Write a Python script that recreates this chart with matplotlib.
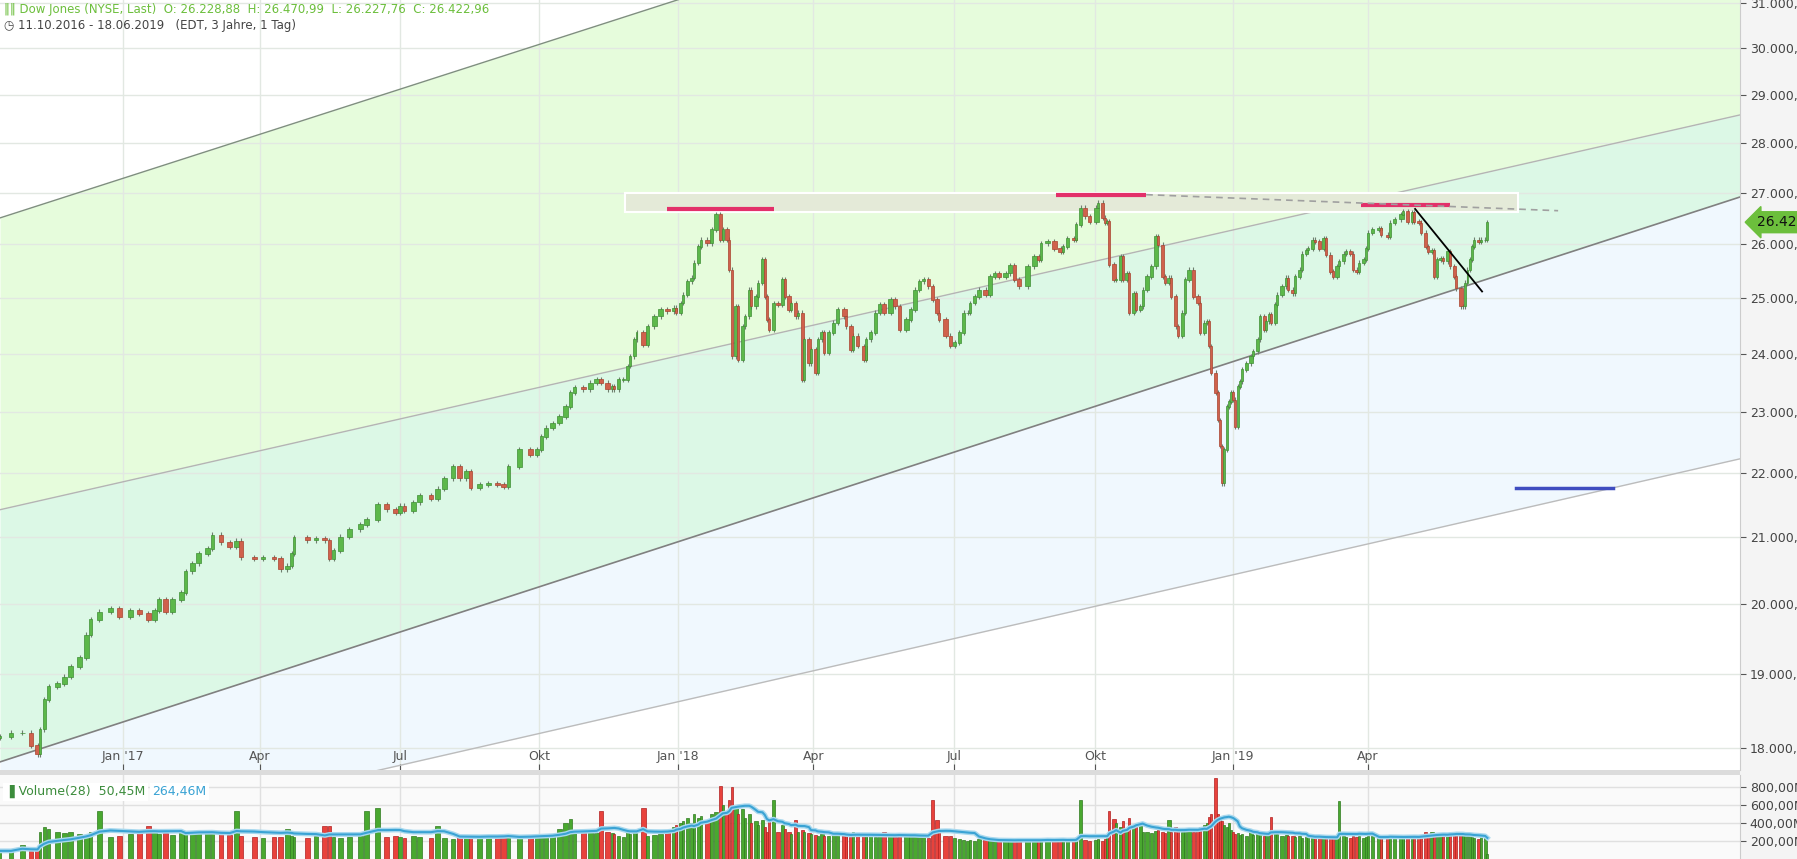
import numpy as np
import pandas as pd
import matplotlib
matplotlib.use("Agg")
import matplotlib.pyplot as plt
from matplotlib.patches import Rectangle
from matplotlib.ticker import FixedLocator, NullLocator

# ---------------- data (trading-day index, close) ----------------
days_a = [0,5,10,14,17,18,20,22,26,29, 32,36,39,41,45,50,54,59,63,67,
          70,72,75,78,82,84,87,90,94,96, 100,104,107,109,115,119,124,127,130,132,
          133,139,143,147,149,151,154,158,163,166, 171,175,179,181,183,187,190,195,198,201,
          205,208,211,213,217,221,225,228,230,235]
close_a = [18150,18200,18200,18030,17920,18250,18650,18830,18870,18960,
           19100,19230,19550,19770,19880,19930,19810,19900,19860,19770,
           19900,20060,19880,20060,20160,20480,20600,20750,20820,21030,
           20920,20850,20940,20690,20670,20690,20670,20510,20560,20750,
           20990,20950,20980,20950,20670,20790,21000,21120,21190,21270,
           21510,21430,21380,21480,21400,21540,21640,21590,21750,21920,
           22110,21920,22030,21770,21820,21840,21820,21790,22110,22380]
vol_a = [90,90,160,90,100,300,350,330,300,290,
         300,280,250,300,533,240,250,280,290,366,
         300,280,290,270,300,290,280,300,290,300,
         290,270,533,250,240,230,240,240,330,250,
         240,230,250,370,370,240,230,240,250,533,
         566,240,250,240,230,250,240,230,366,230,
         220,240,230,240,230,260,250,260,270,260]

days_b = [240,243,245,247,250,253,256,258,260,264, 267,270,272,275,277,278,280,282,284,285,
          287,288,291,293,296,299,302,305,306,308, 309,311,313,314,316,317,320,322,324,326,
          327,329,330,331,333,334,336,337,339,340, 342,343,345,346,347,348,350,352,354,355,
          357,358,360,361,363,364,366,367,369,370, 372,373,375,377,379,382,383,385,386,388,
          391,392,394,396,398,400,403,405,407,410, 412,414,416,418,420,422,424,425,428,430,
          432,434,436,438,439,441,443,446,448,450, 452,455,457,459,461]
close_b = [22300,22380,22600,22740,22820,22930,23100,23330,23420,23390,
           23500,23560,23500,23390,23440,23390,23560,23560,23790,23960,
           24260,24380,24170,24490,24670,24790,24760,24820,24730,24910,
           25060,25310,25370,25650,25960,26085,26020,26280,26575,26085,
           26280,26085,25520,23960,24850,23900,24490,24670,25150,24850,
           25030,25280,25720,25030,24610,24430,24910,24880,25340,25030,
           24790,24910,24670,24730,23560,24260,23840,24080,23670,24260,
           24380,24020,24380,24550,24790,24670,24490,24080,24320,24140,
           23900,24260,24380,24730,24880,24730,24970,24850,24430,24610,
           24790,25150,25310,25340,25220,24970,24730,24610,24320,24140,
           24200,24380,24730,24730,24910,25030,25150,25060,25400,25460,
           25400,25460,25600,25340,25220]
vol_b = [260,260,270,250,270,330,400,440,320,300,
         300,290,533,300,290,280,260,240,300,280,
         300,290,566,260,270,280,300,350,380,400,
         420,450,400,500,450,480,420,500,520,810,
         600,500,650,800,600,500,550,450,500,400,
         420,380,433,350,300,420,650,300,380,330,
         300,280,433,300,320,300,290,280,270,260,
         280,260,250,270,300,270,250,240,300,280,
         260,280,250,240,260,300,250,240,260,280,
         270,260,250,240,230,650,433,300,260,250,
         230,220,210,200,210,200,220,210,200,210,
         200,210,220,200,210]

days_c = [465,468,470,471,474,477,480,481,483,486, 487,489,491,493,496,497,499,500,501,502,
          504,505,507,508,510,511,513,514,516,517, 519,521,523,524,526,527,529,530,532,533,
          535,536,538,540,542,543,545,546,547,548, 550,551,552,553,554,555,556,557,558,559,
          560,561,562,564,566,567,569,570,572,573, 574,575,577,578,580,582,583,585,586,588,
          589,591,592,594,595,597,599,600,602,603, 605,606,608,609,611,612,614,615,617,618,
          619,621,624,625,628,629,631,634,635,637, 639,640,642,643,645,646,648,649,650,652,
          653,655,656,658,659,661,662,663,664,665, 666,667,669,670,672,673]
close_c = [25590,25770,25710,26020,26050,25920,25860,25960,26120,26085,
           26380,26700,26540,26440,26700,26800,26510,26410,26440,25620,
           25340,25340,25770,25340,25460,24730,25090,24790,24850,25150,
           25400,25590,26150,25990,25400,25280,25370,25030,24490,24320,
           24730,25340,25520,25030,24910,24380,24550,24580,24140,23670,
           23330,22870,22440,21840,22380,23100,23180,23330,23210,22760,
           23440,23530,23730,23840,23960,24050,24260,24670,24430,24580,
           24700,24550,24880,25060,25220,25370,25150,25090,25400,25520,
           25820,25890,25920,26085,26050,25920,26120,25800,25490,25400,
           25590,25680,25820,25860,25820,25520,25490,25650,25710,25920,
           26220,26280,26310,26180,26150,26410,26480,26575,26640,26440,
           26610,26440,26410,26220,25960,25860,25890,25400,25710,25740,
           25680,25860,25590,25400,25180,24850,24850,25280,25520,25710,
           25960,26085,26050,26085,26085,26423]
vol_c = [210,200,220,210,230,200,210,220,200,210,
         230,650,210,200,210,220,200,220,230,533,
         440,400,350,420,330,450,380,350,360,300,
         300,290,310,320,300,290,433,300,350,320,
         300,310,330,300,320,350,380,400,470,500,
         900,500,450,420,380,350,400,320,300,280,
         290,270,280,260,300,270,280,300,260,280,
         270,466,300,280,260,270,250,260,240,250,
         230,240,250,230,240,260,230,240,250,230,
         240,643,250,240,230,250,240,260,230,240,
         250,260,240,230,250,260,240,230,250,240,
         260,240,250,270,300,280,300,270,260,280,
         260,250,270,280,300,290,280,260,270,250,
         240,230,220,240,230,60]

month_ticks = [55.5, 117.6, 181, 244, 306.8, 368, 431.7, 495.5, 558, 619]
month_labels = ["Jan '17", "Apr", "Jul", "Okt", "Jan '18", "Apr", "Jul", "Okt", "Jan '19", "Apr"]
price_ticks = [18000,19000,20000,21000,22000,23000,24000,25000,26000,27000,28000,29000,30000,31000]
vol_ticks = [200, 400, 600, 800]

# channel lines: (day_start, price_start, day_end, price_end)
line1 = (0, 26506, 787.3, 39890)
line2 = (0, 21420, 787.3, 28576)
line3 = (0, 17818, 787.3, 26914)
line4 = (0, 16625, 787.3, 22231)
zone = (283, 687, 26626, 27000)
pink_lines = [(302, 350, 26680), (478, 518.6, 26960), (616, 656, 26750)]
dashed = (518.6, 26960, 705, 26646)
black_line = (640.3, 26680, 670.6, 25120)
blue_line = (686, 730, 21766)
last_close = 26422.96

days = np.array(days_a + days_b + days_c, float)
close = np.array(close_a + close_b + close_c, float)
vol = np.array(vol_a + vol_b + vol_c, float)
n = min(len(days), len(close), len(vol))
days, close, vol = days[:n], close[:n], vol[:n]
opens = np.concatenate([[close[0] * 0.999], close[:-1]])

XMAX = 787.3
YMIN, YMAX = 17713, 31077

W, H = 1797, 859
fig = plt.figure(figsize=(W / 100, H / 100), dpi=100, facecolor="#f4f4f4")
axw = 1740 / W
ax = fig.add_axes([0, 1 - 770 / H, axw, 770 / H])
axv = fig.add_axes([0, 0, axw, 84 / H])
fig.patches.append(Rectangle((0, 84 / H), axw, 5 / H, transform=fig.transFigure,
                             facecolor="#dcdcdc", edgecolor="none"))

ax.set_yscale("log")
ax.set_xlim(0, XMAX)
ax.set_ylim(YMIN, YMAX)
ax.set_facecolor("white")

def lineval(l, xs):
    d0, p0, d1, p1 = l
    return np.exp(np.log(p0) + (np.log(p1) - np.log(p0)) * (xs - d0) / (d1 - d0))

xs = np.linspace(0, XMAX, 200)
l1, l2, l3, l4 = (lineval(l, xs) for l in (line1, line2, line3, line4))
ax.fill_between(xs, l2, l1, color="#e6fcdc", zorder=0, lw=0)
ax.fill_between(xs, l3, l2, color="#dcf8e6", zorder=0, lw=0)
ax.fill_between(xs, l4, l3, color="#f0f8fe", zorder=0, lw=0)

ax.yaxis.set_major_locator(FixedLocator(price_ticks))
ax.yaxis.set_minor_locator(NullLocator())
ax.set_yticklabels([f"{t:,.2f}".replace(",", "X").replace(".", ",").replace("X", ".") for t in price_ticks])
ax.yaxis.tick_right()
ax.tick_params(axis="y", direction="out", length=4, color="#555555", labelcolor="#444444",
               labelsize=9, pad=3)
ax.set_xticks(month_ticks)
ax.set_xticklabels([])
ax.tick_params(axis="x", direction="in", length=4, color="#555555")
ax.grid(True, color="#e2e8e2", lw=1, zorder=1)
ax.set_axisbelow(True)
for t, lab in zip(month_ticks, month_labels):
    ax.text(t, 0.018, lab, transform=ax.get_xaxis_transform(), ha="center", va="center",
            fontsize=9, color="#555555", zorder=6)

for l, c, lw in ((line1, "#7f8f7f", 1.0), (line2, "#b4b4b4", 1.0), (line3, "#808080", 1.2), (line4, "#bcbcbc", 1.0)):
    ax.plot(xs, lineval(l, xs), color=c, lw=lw, zorder=2)

ax.add_patch(Rectangle((zone[0], zone[2]), zone[1] - zone[0], zone[3] - zone[2],
                       facecolor="#e4ead8", edgecolor="white", lw=1.5, zorder=2))

# candles
gaps = np.diff(np.concatenate([[days[0] - 1], days]))
widths = np.clip(gaps * 0.75, 0.9, 2.2)
up = close >= opens
upc, dnc = "#5cb84a", "#d0614c"
cols = np.where(up, upc, dnc)
edge = np.where(up, "#3f8f35", "#a8432f")
hi = np.maximum(opens, close) * 1.0018
lo = np.minimum(opens, close) * 0.9982
ax.vlines(days, lo, hi, color="#6f7f6f", lw=0.8, zorder=3)
ax.bar(days, np.abs(close - opens) + 8, bottom=np.minimum(opens, close) - 4, width=widths,
       color=cols, edgecolor=edge, lw=0.5, zorder=4)

for d0, d1, p in pink_lines:
    ax.plot([d0, d1], [p, p], color="#e3306a", lw=3, zorder=5, solid_capstyle="butt")
ax.plot([dashed[0], dashed[2]], [dashed[1], dashed[3]], color="#a0a0a0", lw=1.2, ls=(0, (4, 3)), zorder=5)
ax.plot([black_line[0], black_line[2]], [black_line[1], black_line[3]], color="black", lw=1.3, zorder=5)
ax.plot([blue_line[0], blue_line[1]], [blue_line[2], blue_line[2]], color="#3f4dc0", lw=2.5, zorder=5)

for s in ax.spines.values():
    s.set_visible(False)
ax.spines["right"].set_visible(True)
ax.spines["right"].set_color("#cccccc")

ax.annotate("26.422,96", xy=(1.0, last_close), xycoords=("axes fraction", "data"),
            xytext=(12, 0), textcoords="offset points", ha="left", va="center",
            fontsize=10, color="#111111", annotation_clip=False,
            bbox=dict(boxstyle="larrow,pad=0.25", fc="#6cbf3c", ec="#6cbf3c"))

# header
fig.text(4 / W, 1 - 9 / H, "\u2016\u2016 Dow Jones (NYSE, Last)  O: 26.228,88  H: 26.470,99  L: 26.227,76  C: 26.422,96",
         fontsize=8.5, color="#6cbf3c", va="center", ha="left")
fig.text(4 / W, 1 - 26 / H, "\u25F7 11.10.2016 - 18.06.2019   (EDT, 3 Jahre, 1 Tag)",
         fontsize=8.5, color="#444444", va="center", ha="left")

# volume panel
axv.set_xlim(0, XMAX)
axv.set_ylim(0, 930)
axv.set_facecolor("#fafafa")
vcols = np.where(up, "#49a82f", "#e8423c")
vedge = np.where(up, "#2f7a1f", "#b02020")
axv.bar(days, vol, width=widths, color=vcols, edgecolor=vedge, lw=0.5, zorder=3)
ma = pd.Series(vol).rolling(11, min_periods=1).mean().values
axv.plot(days, ma, color="#a8d8ee", lw=3.5, zorder=4)
axv.plot(days, ma, color="#3aa3d4", lw=1.5, zorder=5)
axv.yaxis.set_major_locator(FixedLocator(vol_ticks))
axv.set_yticklabels([f"{t},00M" for t in vol_ticks])
axv.yaxis.tick_right()
axv.tick_params(axis="y", direction="out", length=4, color="#555555", labelcolor="#444444",
                labelsize=9, pad=3)
axv.set_xticks(month_ticks)
axv.set_xticklabels([])
axv.tick_params(axis="x", length=0)
axv.grid(True, color="#e0e0e0", lw=1, zorder=1)
axv.set_axisbelow(True)
for s in axv.spines.values():
    s.set_visible(False)
axv.spines["right"].set_visible(True)
axv.spines["right"].set_color("#cccccc")
t1 = axv.text(0.003, 0.80, "\u2590 Volume(28)  50,45M", transform=axv.transAxes, fontsize=9,
              color="#3c8c3c", va="center", ha="left", zorder=6,
              bbox=dict(fc="white", ec="none", pad=1.5))
axv.annotate("264,46M", xy=(1, 0.5), xycoords=t1, xytext=(5, 0), textcoords="offset points",
             fontsize=9, color="#3aa3d4", va="center", ha="left", zorder=7,
             bbox=dict(fc="white", ec="none", pad=1.5))

fig.savefig("out.png", dpi=100, facecolor=fig.get_facecolor())
